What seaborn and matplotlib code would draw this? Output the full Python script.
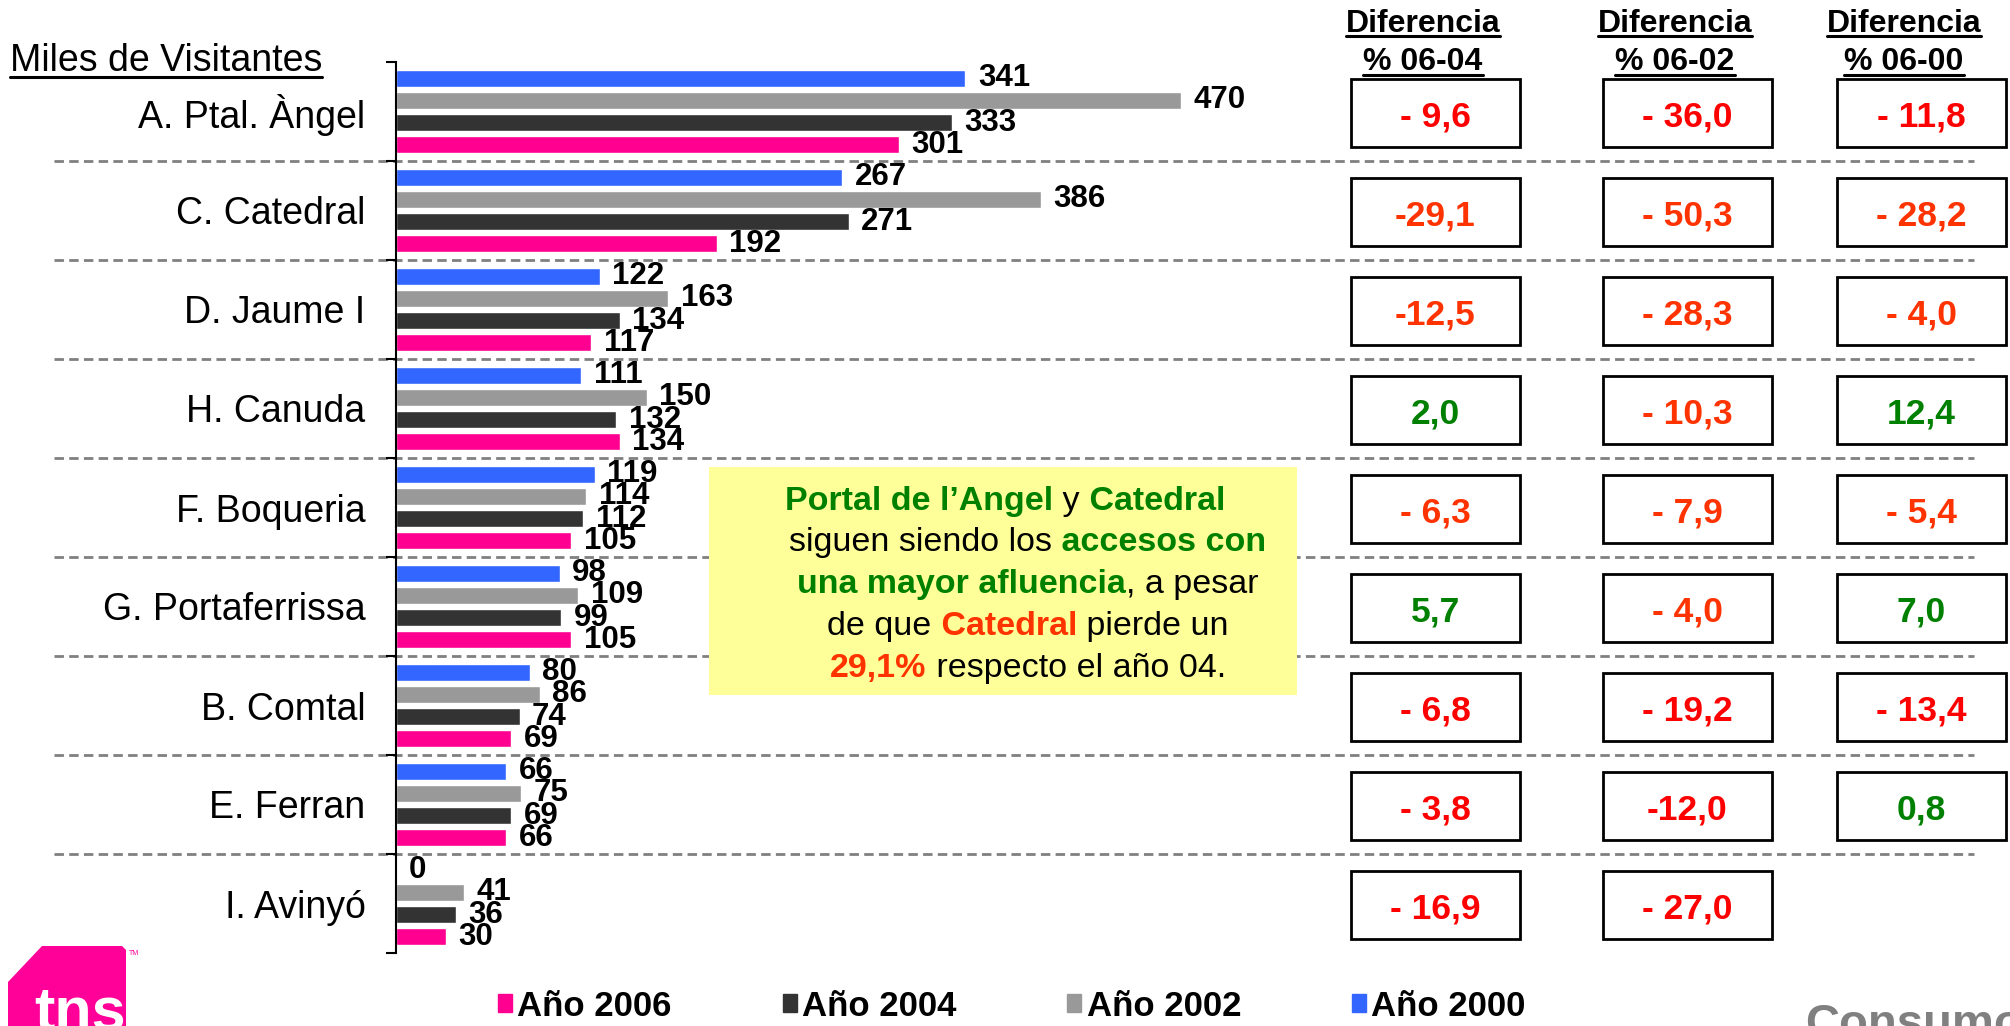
import matplotlib.pyplot as plt
import matplotlib.patches as mpatches
from matplotlib.lines import Line2D
import numpy as np
import pandas as pd
import seaborn as sns


categories = ['A. Ptal. Àngel', 'C. Catedral', 'D. Jaume I', 'H. Canuda',
              'F. Boqueria', 'G. Portaferrissa', 'B. Comtal', 'E. Ferran',
              'I. Avinyó']
years = ['Año 2000', 'Año 2002', 'Año 2004', 'Año 2006']
v2000 = [341, 267, 122, 111, 119, 98, 80, 66, 0]
v2002 = [470, 386, 163, 150, 114, 109, 86, 75, 41]
v2004 = [333, 271, 134, 132, 112, 99, 74, 69, 36]
v2006 = [301, 192, 117, 134, 105, 105, 69, 66, 30]

diff_headers = ['% 06-04', '% 06-02', '% 06-00']
d0604 = ['- 9,6', '-29,1', '-12,5', '2,0', '- 6,3', '5,7', '- 6,8', '- 3,8', '- 16,9']
d0602 = ['- 36,0', '- 50,3', '- 28,3', '- 10,3', '- 7,9', '- 4,0', '- 19,2', '-12,0', '- 27,0']
d0600 = ['- 11,8', '- 28,2', '- 4,0', '12,4', '- 5,4', '7,0', '- 13,4', '0,8', None]

RED, ORANGE, GREEN = '#FF0000', '#FF3300', '#008000'
c0604 = [RED, ORANGE, ORANGE, GREEN, ORANGE, GREEN, RED, RED, RED]
c0602 = [RED, ORANGE, ORANGE, ORANGE, ORANGE, ORANGE, RED, RED, RED]
c0600 = [RED, ORANGE, ORANGE, GREEN, ORANGE, GREEN, RED, GREEN, None]

palette = {'Año 2000': '#3366FF', 'Año 2002': '#999999',
           'Año 2004': '#333333', 'Año 2006': '#FF0090'}

# note text: (text, color, weight) segments per line
note_lines = [
    [('Portal de l\u2019Angel', GREEN, 'bold'), (' y', 'black', 'normal'),
     (' Catedral', GREEN, 'bold')],
    [('siguen siendo los', 'black', 'normal'), (' accesos con', GREEN, 'bold')],
    [('una mayor afluencia', GREEN, 'bold'), (', a pesar', 'black', 'normal')],
    [('de que', 'black', 'normal'), (' Catedral', ORANGE, 'bold'),
     (' pierde un', 'black', 'normal')],
    [('29,1%', ORANGE, 'bold'), (' respecto el año 04.', 'black', 'normal')],
]

W, H = 2010, 1026
sns.set_style('white')
plt.rcParams['font.family'] = ['Liberation Sans', 'DejaVu Sans']
plt.rcParams['text.color'] = 'black'

fig = plt.figure(figsize=(W / 100, H / 100), dpi=100)


def fx(px):
    return px / W


def fy(py):
    return 1 - py / H


ax_l, ax_r, ax_t, ax_b = 396, 1300, 62, 953
px_per_unit = 1.67
ax = fig.add_axes([fx(ax_l), fy(ax_b), fx(ax_r - ax_l), (ax_b - ax_t) / H])

df = pd.DataFrame({'Acceso': categories, 'Año 2000': v2000, 'Año 2002': v2002,
                   'Año 2004': v2004, 'Año 2006': v2006})
df = df.melt(id_vars='Acceso', var_name='Año', value_name='Visitantes')
sns.barplot(data=df, x='Visitantes', y='Acceso', hue='Año', hue_order=years,
            order=categories, palette=palette, orient='h', width=0.89,
            gap=0.22, saturation=1, legend=False, ax=ax)
for cont in ax.containers:
    ax.bar_label(cont, padding=9, fontsize=22.5, fontweight='bold',
                 color='black')

# dashed separators, from the labels to the table
seps = np.arange(0.5, len(categories) - 1, 1)
span = ax_r - ax_l
ax.hlines(seps, (54 - ax_l) / span, (1974 - ax_l) / span,
          transform=ax.get_yaxis_transform(), colors='#808080',
          linewidth=2, linestyles=(0, (3.4, 1.9)), clip_on=False, zorder=0.5)

ax.set_xlim(0, span / px_per_unit)
ax.set_ylim(len(categories) - 0.5, -0.5)
ax.set_xlabel('')
ax.set_ylabel('')
ax.set_xticks([])
ax.set_yticks(range(len(categories)))
ax.set_yticklabels(categories)
ax.set_yticks(np.arange(-0.5, len(categories), 1), minor=True)
ax.tick_params(axis='y', which='major', length=0, pad=22, labelsize=27,
               labelcolor='black')
ax.tick_params(axis='y', which='minor', length=7, width=1.5, color='black',
               direction='out', left=True)
for s in ['top', 'right', 'bottom']:
    ax.spines[s].set_visible(False)
ax.spines['left'].set_color('black')
ax.spines['left'].set_linewidth(1.5)

# table of differences
tab = fig.add_axes([fx(1300), fy(ax_b), fx(710), (ax_b - ax_t) / H])
tab.set_xlim(1300, 2010)
tab.set_ylim(len(categories) - 0.5, -0.5)
tab.axis('off')
box_cx = [1435, 1687, 1921]
for cx, vals, cols in zip(box_cx, [d0604, d0602, d0600], [c0604, c0602, c0600]):
    for i, (v, c) in enumerate(zip(vals, cols)):
        if v is None:
            continue
        tab.add_patch(mpatches.Rectangle((cx - 84.5, i - 0.33), 169, 0.69,
                                         facecolor='white', edgecolor='black',
                                         linewidth=2))
        tab.text(cx, i + 0.02, v, color=c, fontsize=25.5, fontweight='bold',
                 ha='center', va='center_baseline')

r = fig.canvas.get_renderer()


def underline(t, y, lw=2.2):
    bb = t.get_window_extent(r)
    fig.add_artist(Line2D([bb.x0 / W, bb.x1 / W], [fy(y), fy(y)],
                          transform=fig.transFigure, color='black', lw=lw))


head_cx = [1423, 1675, 1904]
for cx, h in zip(head_cx, diff_headers):
    t1 = fig.text(fx(cx), fy(32), 'Diferencia', fontsize=23, fontweight='bold',
                  ha='center', va='baseline')
    t2 = fig.text(fx(cx), fy(70), h, fontsize=23, fontweight='bold',
                  ha='center', va='baseline')
    underline(t1, 36)
    underline(t2, 75)

t = fig.text(fx(10), fy(71), 'Miles de Visitantes', fontsize=27,
             ha='left', va='baseline')
underline(t, 77)

# yellow note
fig.add_artist(mpatches.Rectangle((fx(709), fy(695)), fx(1297 - 709),
                                  (695 - 467) / H, transform=fig.transFigure,
                                  facecolor='#FFFF99', edgecolor='none',
                                  zorder=5))
note_cx = [1005, 1028, 1028, 1028, 1028]
note_base = [510, 551, 593, 635, 677]
for segs, cx, yb in zip(note_lines, note_cx, note_base):
    texts = [fig.text(0, fy(yb), s, color=c, fontweight=w, fontsize=24.5,
                      ha='left', va='baseline', zorder=6) for s, c, w in segs]
    widths = [tt.get_window_extent(r).width for tt in texts]
    x = cx - sum(widths) / 2
    for tt, wd in zip(texts, widths):
        tt.set_x(fx(x))
        x += wd

# legend
handles = [mpatches.Patch(color=palette[y]) for y in years[::-1]]
fig.legend(handles, years[::-1], ncol=4, loc='center',
           bbox_to_anchor=(fx(1012), fy(1006)), frameon=False,
           prop={'size': 25, 'weight': 'bold'}, handlelength=0.4,
           handleheight=0.45, handletextpad=0.15, columnspacing=3.2,
           borderpad=0, borderaxespad=0)

# logo and footer
fig.add_artist(mpatches.Polygon([(fx(8), fy(1030)), (fx(8), fy(982)),
                                 (fx(42), fy(946)), (fx(122), fy(946)),
                                 (fx(126), fy(950)), (fx(126), fy(1030))],
                                closed=True, transform=fig.transFigure,
                                facecolor='#FF0099', edgecolor='none'))
fig.text(fx(34), fy(1030), 'tns', color='white', fontsize=44,
         fontweight='bold', ha='left', va='baseline')
fig.text(fx(129), fy(955), 'TM', color='#FF0099', fontsize=5, ha='left',
         va='baseline')
fig.text(fx(1805), fy(1003), 'Consumo', color='#808080', fontsize=34,
         fontweight='bold', ha='left', va='top')

fig.savefig('out.png', dpi=100)
